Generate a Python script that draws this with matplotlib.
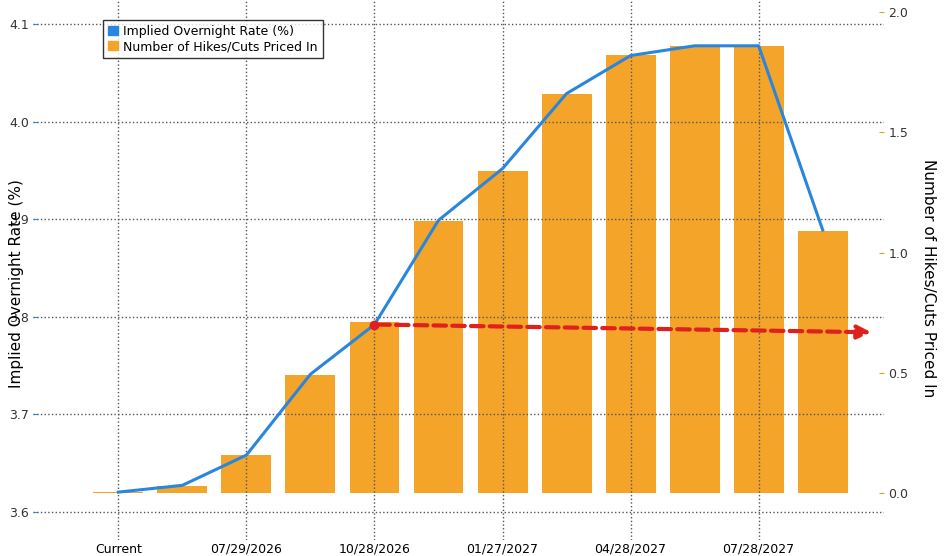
import numpy as np
import matplotlib
matplotlib.use("Agg")
import matplotlib.pyplot as plt
from matplotlib.patches import Patch

labels = ["Current", "07/29/2026", "10/28/2026", "01/27/2027", "04/28/2027", "07/28/2027"]
hikes = [0.005, 0.03, 0.16, 0.49, 0.71, 1.13, 1.34, 1.66, 1.82, 1.86, 1.86, 1.09]
rate = [3.620, 3.627, 3.658, 3.741, 3.792, 3.899, 3.952, 4.029, 4.068, 4.078, 4.078, 3.889]
x = np.arange(len(hikes))

fig = plt.figure(figsize=(9.49, 5.56), dpi=100)
ax = fig.add_axes([0.035, 0.029, 0.896, 0.971])
ax2 = ax.twinx()

ax2.bar(x, hikes, width=0.78, color="#f5a42a", zorder=2)
ax2.set_ylim(-0.195, 2.05)
ax2.set_yticks([0, 0.5, 1.0, 1.5, 2.0])
ax2.set_yticklabels(["0.0", "0.5", "1.0", "1.5", "2.0"])
ax2.tick_params(axis="y", colors="#e8a020", labelcolor="#333333", labelsize=9, direction="in")
fig.text(0.978, 0.5, "Number of Hikes/Cuts Priced In", rotation=270, fontsize=11,
         ha="center", va="center")

ax.set_zorder(ax2.get_zorder() + 1)
ax.patch.set_visible(False)
ax.plot(x, rate, color="#2a86dc", lw=2.2, zorder=3)
ax.set_xlim(-1.33, 11.95)
ax.set_ylim(3.571, 4.125)
ax.set_yticks([3.6, 3.7, 3.8, 3.9, 4.0, 4.1])
ax.tick_params(axis="y", labelsize=9, direction="in", colors="#2a86dc", labelcolor="#333333", pad=3)
fig.text(0.017, 0.49, "Implied Overnight Rate (%)", rotation=90, fontsize=11,
         ha="center", va="center")
ax.set_xticks(x[::2])
ax.set_xticklabels(labels, fontsize=9)
ax.tick_params(axis="x", length=0, pad=2)
ax.grid(True, ls=":", color="#555555", lw=1)

# red dashed arrow
ax.plot([4], [3.792], "o", color="#e0201c", ms=6, zorder=4)
ax.annotate("", xy=(11.8, 3.784), xytext=(4, 3.792), annotation_clip=False,
            arrowprops=dict(arrowstyle="-|>,head_length=0.8,head_width=0.4", color="#e0201c",
                            lw=3, ls=(0, (3, 1.5))), zorder=4)

for a in (ax, ax2):
    for s in a.spines.values():
        s.set_visible(False)

ax.legend(handles=[Patch(color="#2a86dc", label="Implied Overnight Rate (%)"),
                   Patch(color="#f5a42a", label="Number of Hikes/Cuts Priced In")],
          loc="upper left", bbox_to_anchor=(0.075, 0.975), fontsize=9, frameon=True,
          edgecolor="black", fancybox=False, handlelength=0.8, handletextpad=0.4,
          borderpad=0.4, labelspacing=0.2).set_zorder(10)

fig.savefig("out.png", dpi=100)
